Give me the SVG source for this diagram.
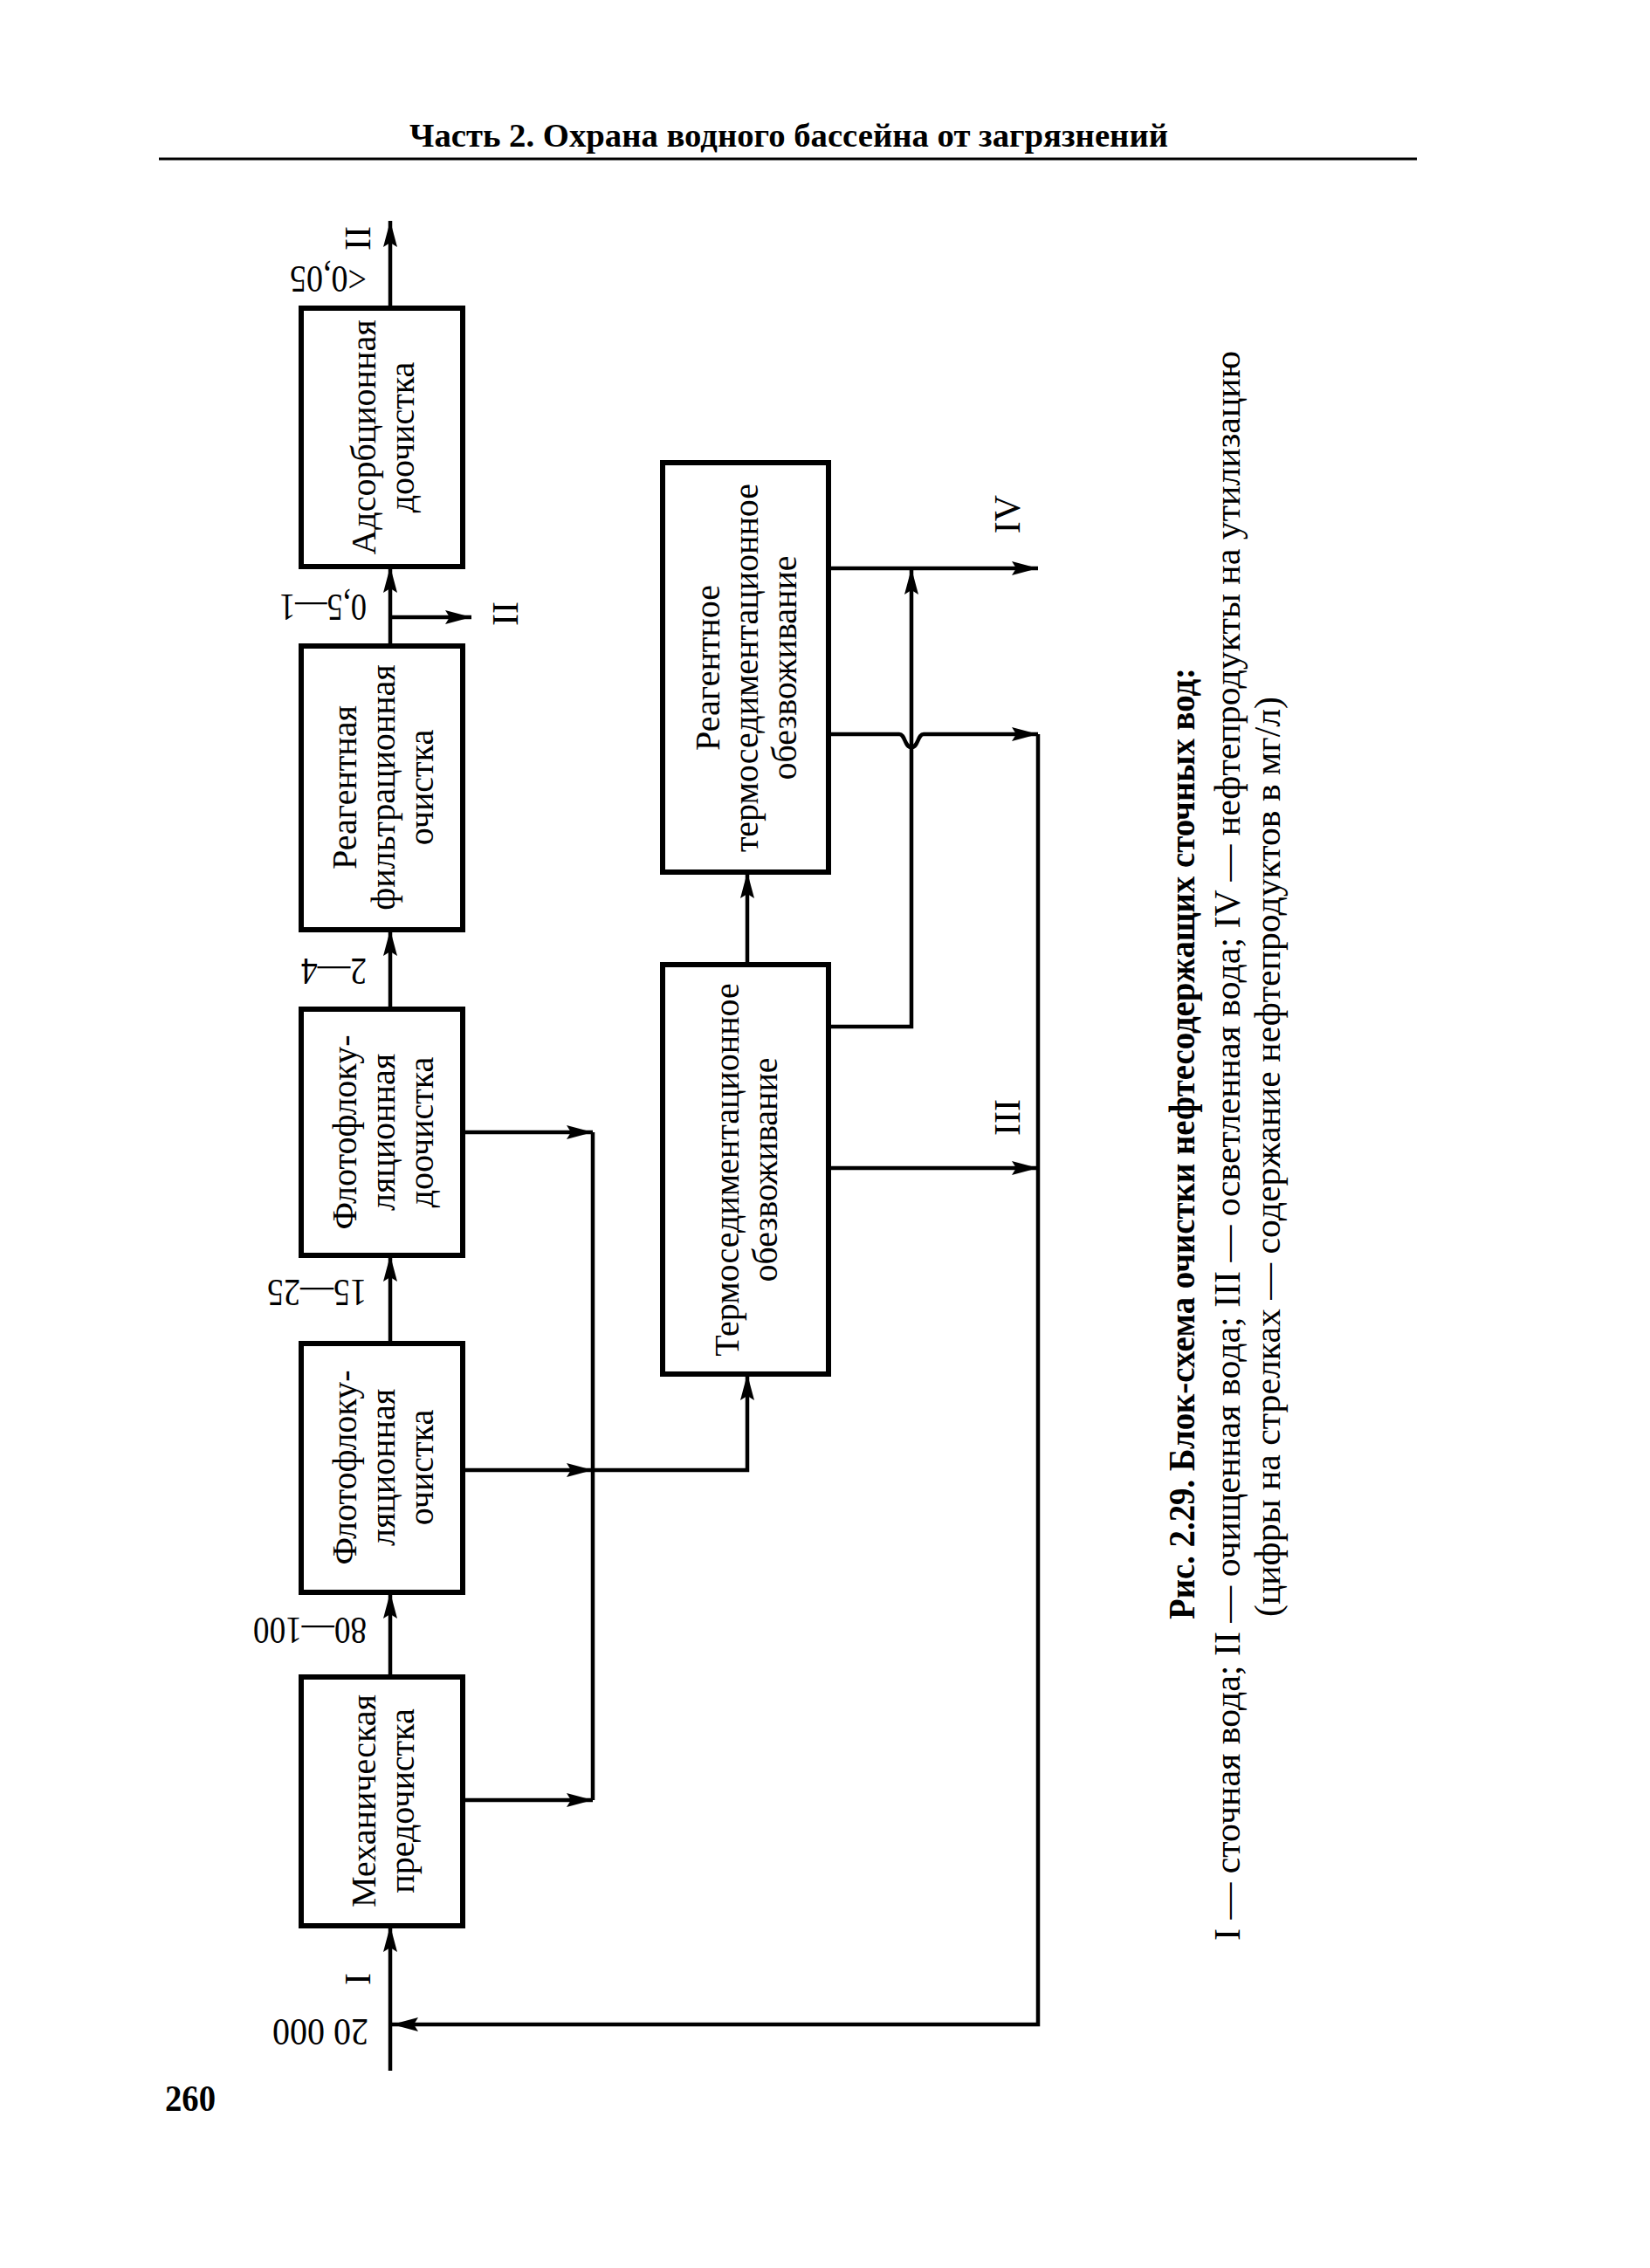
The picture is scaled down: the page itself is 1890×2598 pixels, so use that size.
<svg xmlns="http://www.w3.org/2000/svg" width="1890" height="2598" viewBox="0 0 1890 2598">
<style>
.bg{fill:#fff}
.box{fill:#fff;stroke:#000;stroke-width:6}
.ln{fill:none;stroke:#000;stroke-width:4.5}
.arr{marker-end:url(#ah)}
.t{font-family:"Liberation Serif","DejaVu Serif",serif;font-size:40px;fill:#000;text-anchor:middle}
.lab{font-family:"Liberation Serif","DejaVu Serif",serif;font-size:44px;fill:#000;text-anchor:start}
.rn{font-family:"Liberation Serif","DejaVu Serif",serif;font-size:42px;fill:#000;text-anchor:middle}
.cap{font-family:"Liberation Serif","DejaVu Serif",serif;font-size:42px;fill:#000;text-anchor:start}
.b{font-weight:bold}
</style>
<defs>
<marker id="ah" viewBox="0 0 30 16" refX="30" refY="8" markerWidth="30" markerHeight="16" orient="auto" markerUnits="userSpaceOnUse">
<path d="M0,0 L30,8 L0,16 L5,8 z" fill="#000"/>
</marker>
</defs>
<rect class="bg" x="0" y="0" width="1890" height="2598"/>

<g id="header">
<text class="b" x="469" y="168" font-family="Liberation Serif, serif" font-size="38" textLength="869" lengthAdjust="spacingAndGlyphs">Часть 2. Охрана водного бассейна от загрязнений</text>
<line x1="182" y1="182" x2="1623" y2="182" stroke="#000" stroke-width="3"/>
</g>

<g id="connectors">
<path class="ln arr" d="M447,2372 V2206"/>
<path class="ln arr" d="M447,1921 V1824"/>
<path class="ln arr" d="M447,1539 V1438"/>
<path class="ln arr" d="M447,1156 V1065"/>
<path class="ln arr" d="M447,740 V649"/>
<path class="ln arr" d="M447,353 V253"/>
<path class="ln arr" d="M447,707 H540"/>
<path class="ln arr" d="M530,2062 H679"/>
<path class="ln arr" d="M530,1297 H679"/>
<path class="ln" d="M679,1297 V2062"/>
<path class="ln arr" d="M530,1684 H679"/>
<path class="ln arr" d="M679,1684 H856 V1574"/>
<path class="ln arr" d="M856,1105 V999"/>
<path class="ln arr" d="M949,1176 H1044 V651"/>
<path class="ln arr" d="M949,1338 H1189"/>
<path class="ln arr" d="M949,651 H1189"/>
<path class="ln arr" d="M949,841 H1030 C1037,841 1036,856 1044,856 C1052,856 1051,841 1058,841 H1189"/>
<path class="ln arr" d="M1189,841 V2319 H449"/>
</g>

<g id="n-ads">
<rect class="box" x="345" y="353" width="185" height="296"/>
<text class="t" transform="translate(430,501) rotate(-90)">Адсорбционная</text>
<text class="t" transform="translate(474,501) rotate(-90)">доочистка</text>
</g>
<g id="n-filt">
<rect class="box" x="345" y="740" width="185" height="325"/>
<text class="t" transform="translate(408,902) rotate(-90)">Реагентная</text>
<text class="t" transform="translate(452,902) rotate(-90)">фильтрационная</text>
<text class="t" transform="translate(496,902) rotate(-90)">очистка</text>
</g>
<g id="n-flodo">
<rect class="box" x="345" y="1156" width="185" height="282"/>
<text class="t" transform="translate(408,1297) rotate(-90)">Флотофлоку-</text>
<text class="t" transform="translate(452,1297) rotate(-90)">ляционная</text>
<text class="t" transform="translate(496,1297) rotate(-90)">доочистка</text>
</g>
<g id="n-floch">
<rect class="box" x="345" y="1539" width="185" height="285"/>
<text class="t" transform="translate(408,1681) rotate(-90)">Флотофлоку-</text>
<text class="t" transform="translate(452,1681) rotate(-90)">ляционная</text>
<text class="t" transform="translate(496,1681) rotate(-90)">очистка</text>
</g>
<g id="n-mech">
<rect class="box" x="345" y="1921" width="185" height="285"/>
<text class="t" transform="translate(430,2063) rotate(-90)">Механическая</text>
<text class="t" transform="translate(474,2063) rotate(-90)">предочистка</text>
</g>
<g id="n-termo">
<rect class="box" x="759" y="1105" width="190" height="469"/>
<text class="t" transform="translate(846,1340) rotate(-90)">Термоседиментационное</text>
<text class="t" transform="translate(890,1340) rotate(-90)">обезвоживание</text>
</g>
<g id="n-reagtermo">
<rect class="box" x="759" y="530" width="190" height="469"/>
<text class="t" transform="translate(824,765) rotate(-90)">Реагентное</text>
<text class="t" transform="translate(868,765) rotate(-90)">термоседиментационное</text>
<text class="t" transform="translate(912,765) rotate(-90)">обезвоживание</text>
</g>

<g id="labels">
<text class="lab" transform="translate(420,305) rotate(180)" textLength="88" lengthAdjust="spacingAndGlyphs">&lt;0,05</text>
<text class="lab" transform="translate(420,681) rotate(180)" textLength="100" lengthAdjust="spacingAndGlyphs">0,5—1</text>
<text class="lab" transform="translate(420,1098) rotate(180)" textLength="75" lengthAdjust="spacingAndGlyphs">2—4</text>
<text class="lab" transform="translate(420,1466) rotate(180)" textLength="114" lengthAdjust="spacingAndGlyphs">15—25</text>
<text class="lab" transform="translate(420,1853) rotate(180)" textLength="130" lengthAdjust="spacingAndGlyphs">80—100</text>
<text class="lab" transform="translate(422,2313) rotate(180)" textLength="110" lengthAdjust="spacingAndGlyphs">20 000</text>
<text class="rn" transform="translate(424,273) rotate(-90)">II</text>
<text class="rn" transform="translate(424,2267) rotate(-90)">I</text>
<text class="rn" transform="translate(593,703) rotate(-90)">II</text>
<text class="rn" transform="translate(1168,589) rotate(-90)">IV</text>
<text class="rn" transform="translate(1168,1280) rotate(-90)">III</text>
</g>

<g id="caption">
<text class="cap b" transform="translate(1368,1855) rotate(-90)" textLength="1090" lengthAdjust="spacingAndGlyphs">Рис. 2.29. Блок-схема очистки нефтесодержащих сточных вод:</text>
<text class="cap" transform="translate(1420,2223) rotate(-90)" textLength="1821" lengthAdjust="spacingAndGlyphs">I — сточная вода; II — очищенная вода; III — осветленная вода; IV — нефтепродукты на утилизацию</text>
<text class="cap" transform="translate(1466,1852) rotate(-90)" textLength="1054" lengthAdjust="spacingAndGlyphs">(цифры на стрелках — содержание нефтепродуктов в мг/л)</text>
</g>

<g id="page-number">
<text class="b" x="189" y="2418" font-family="Liberation Serif, serif" font-size="42" textLength="58" lengthAdjust="spacingAndGlyphs">260</text>
</g>
</svg>
